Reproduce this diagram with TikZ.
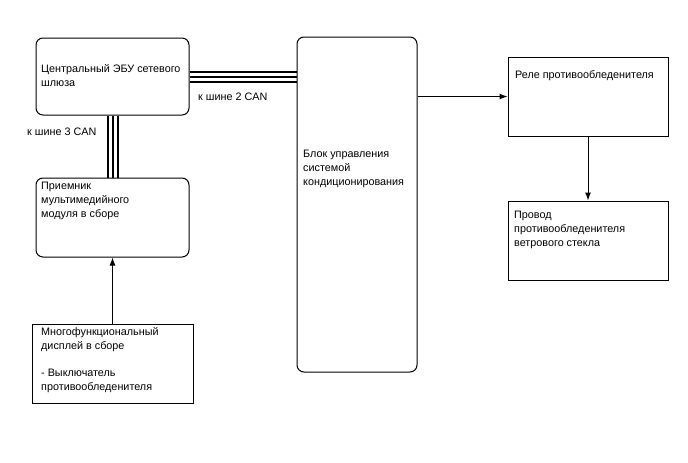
\documentclass[tikz,border=0pt]{standalone}
\usepackage{fontspec}
\setmainfont{Liberation Sans}
\usetikzlibrary{arrows.meta, positioning}
\tikzset{
    ecuBox/.style={
        draw=black,
        line width=1pt,
        rounded corners=7pt,
        inner sep=0pt
    },
    partBox/.style={
        draw=black,
        line width=1pt,
        inner sep=0pt
    },
    boxText/.style={
        anchor=north west,
        align=left,
        inner sep=0pt,
        font=\fontsize{10.8}{14}\selectfont
    },
    canBus/.style={line width=2pt},
    signal/.style={->, line width=1pt}
}

\begin{document}
\begin{tikzpicture}[x=1pt, y=-1pt, >={Latex[length=8pt, width=6pt]}]
            \useasboundingbox (0,0) rectangle (688,463);

            % Control units
            \node[ecuBox, minimum width=153pt, minimum height=77pt] (gw) at (112.5,76.5) {};
            \node[ecuBox, minimum width=153pt, minimum height=79pt] (mm) at (112.5,217.5) {};
            \node[ecuBox, minimum width=120pt, minimum height=335pt] (hvac) at (357,204.5) {};

            % Other parts
            \node[partBox, minimum width=161pt, minimum height=79pt] (disp) at (112.5,363.5) {};
            \node[partBox, minimum width=160pt, minimum height=79pt] (relay) at (588,96.5) {};
            \node[partBox, minimum width=160pt, minimum height=79pt] (wire) at (588,240.5) {};

            % Texts
            \node[boxText] (gwText) at (41,64) {Центральный ЭБУ сетевого\\шлюза};
            \node[boxText] (mmText) at (41,182) {Приемник\\мультимедийного\\модуля в сборе};
            \node[boxText] (dispText) at (41,327) {Многофункциональный\\дисплей в сборе\\[13pt]- Выключатель\\противообледенителя};
            \node[boxText] (hvacText) at (303,150) {Блок управления\\системой\\кондиционирования};
            \node[boxText] (relayText) at (515,70) {Реле противообледенителя};
            \node[boxText] (wireText) at (514,211) {Провод\\противообледенителя\\ветрового стекла};

            % CAN buses
            \foreach \d in {-5,0,5} {
                \draw[canBus] ([yshift=\d pt]gw.east) -- ([yshift=\d pt]gw.east -| hvac.west);
                \draw[canBus] ([xshift=\d pt]gw.south) -- ([xshift=\d pt]mm.north);
            }
            \node[boxText, anchor=west] (can2) at (198,97) {к шине 2 CAN};
            \node[boxText, anchor=west] (can3) at (27,132) {к шине 3 CAN};

            % Signal arrows
            \draw[signal] (disp) -- (mm);
            \draw[signal] (hvac.east |- relay.west) -- (relay.west);
            \draw[signal] (relay) -- (wire);
        \end{tikzpicture}
\end{document}
